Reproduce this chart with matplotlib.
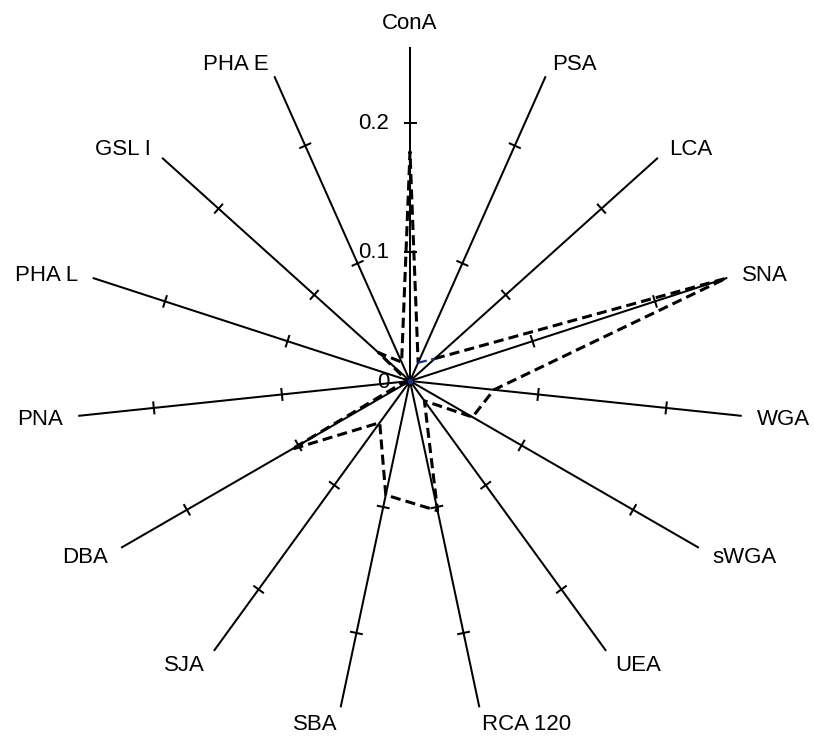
import numpy as np
import matplotlib
matplotlib.use("Agg")
import matplotlib.pyplot as plt

# ---------------- data ----------------
categories = ["ConA", "PSA", "LCA", "SNA", "WGA", "sWGA", "UEA", "RCA 120",
              "SBA", "SJA", "DBA", "PNA", "PHA L", "GSL I", "PHA E"]
values = [0.178, 0.0155, 0.026, 0.258, 0.0655, 0.056, 0.019, 0.103,
          0.0905, 0.040, 0.106, 0.004, 0.003, 0.033, 0.016]
# segment of the series that is rendered in blue (PSA -> LCA)
blue_categories = ["PSA", "LCA"]
blue_point_value = [0.0]
tick_values = [0.0, 0.1, 0.2]
tick_labels = ["0", "0.1", "0.2"]
r_max = 0.259

# ---------------- layout ----------------
W, H, DPI = 814, 737, 100
cx, cy = 410.0, 381.0          # centre in pixels (from top-left)
k = 1288.0                     # pixels per data unit

fig = plt.figure(figsize=(W / DPI, H / DPI), dpi=DPI)
ax = fig.add_axes([0, 0, 1, 1])
ax.set_xlim(-cx / k, (W - cx) / k)
ax.set_ylim(-(H - cy) / k, cy / k)
ax.axis("off")

plt.rcParams["font.family"] = ["Liberation Sans", "DejaVu Sans"]
FS = 16

n = len(categories)
angles = np.deg2rad(90 - 360.0 / n * np.arange(n))


def xy(r, a):
    return r * np.cos(a), r * np.sin(a)


# spokes
for a in angles:
    x, y = xy(np.array([0, r_max]), a)
    ax.plot(x, y, color="black", lw=1.45, solid_capstyle="butt", zorder=2)

# tick marks on every spoke
half = 6.5 / k
for a in angles:
    px, py = -np.sin(a), np.cos(a)
    for t in tick_values:
        if t <= 0:
            continue
        x0, y0 = xy(t, a)
        ax.plot([x0 - half * px, x0 + half * px], [y0 - half * py, y0 + half * py],
                color="black", lw=1.45, solid_capstyle="butt", zorder=2)

# radial tick labels (left of the top spoke)
for t, lab in zip(tick_values, tick_labels):
    ax.annotate(lab, (0, t), xytext=(-21 * 0.72, (-2 if t == 0 else 0) * 0.72),
                textcoords="offset points", ha="right", va="center",
                fontsize=FS, color="black", zorder=3)

# data series (black dashed), skipping the PSA->LCA segment drawn in blue
idx = {c: i for i, c in enumerate(categories)}
i_psa, i_lca = idx[blue_categories[0]], idx[blue_categories[1]]
order = [(i_lca + j) % n for j in range(n)]   # LCA ... PHA E, ConA, PSA
r_arr = np.array(values)
xs = r_arr[order] * np.cos(angles[order])
ys = r_arr[order] * np.sin(angles[order])
ax.plot(xs, ys, color="black", lw=2.2, dashes=(3.3, 1.7), zorder=4)

bx = [values[idx[c]] * np.cos(angles[idx[c]]) for c in blue_categories]
by = [values[idx[c]] * np.sin(angles[idx[c]]) for c in blue_categories]
ax.plot(bx, by, color="#1c2f8c", lw=1.6, dashes=(4, 2), zorder=4)
ax.plot([blue_point_value[0]], [blue_point_value[0]], marker="o", ms=3,
        color="#1c2f8c", zorder=5, ls="none")

# category labels
d = 15.0
for c, a in zip(categories, angles):
    ex, ey = xy(r_max, a)
    ca, sa = np.cos(a), np.sin(a)
    if abs(ca) < 0.05:
        ha = "center"
        va = "bottom" if sa > 0 else "top"
        ox, oy = 0.0, 13.0 * np.sign(sa)
    else:
        ha = "left" if ca > 0 else "right"
        va = "center"
        ox, oy = d * ca, d * sa - 2.2
    ax.annotate(c, (ex, ey), xytext=(ox * 0.72, oy * 0.72), textcoords="offset points",
                ha=ha, va=va, fontsize=FS, color="black")

fig.savefig("out.png", dpi=DPI, facecolor="white")
